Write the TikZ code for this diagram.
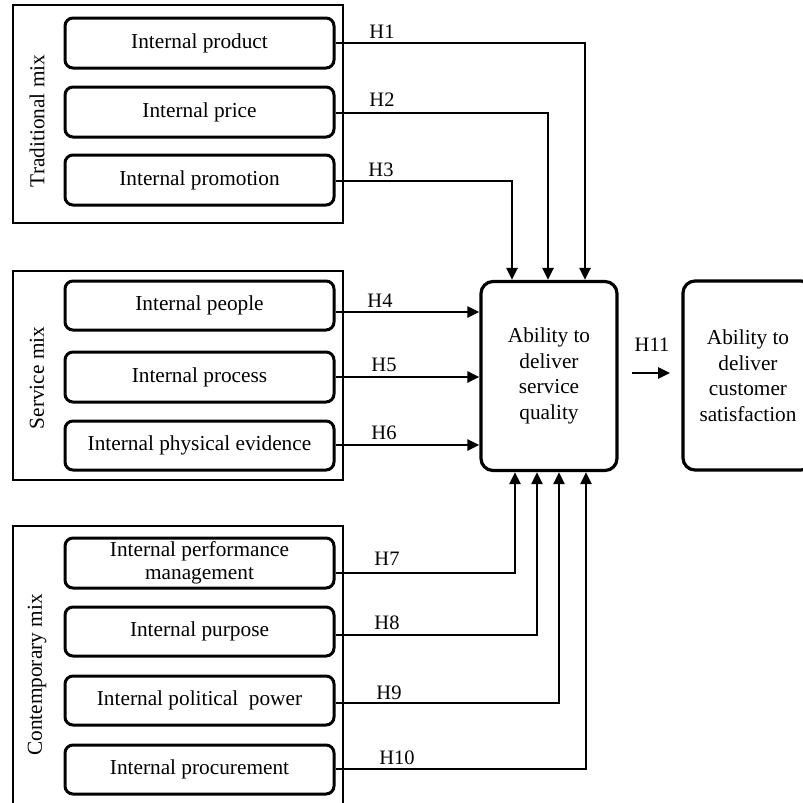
\documentclass[tikz,border=0pt]{standalone}
\usepackage{fontspec}
\setmainfont{Liberation Serif}
\usetikzlibrary{arrows.meta}
\begin{document}
\begin{tikzpicture}[x=1pt,y=-1pt,font=\fontsize{21.3}{25.5}\selectfont,
  inbox/.style={draw,line width=3pt,rounded corners=8pt,minimum width=269pt,minimum height=50pt,align=center,inner sep=0pt},
  grpbox/.style={draw,line width=1.4pt,minimum width=330pt,inner sep=0pt},
  mainbox/.style={draw,line width=3.2pt,rounded corners=12pt,align=center,inner sep=0pt,minimum height=189pt},
  conn/.style={line width=2.7pt,-{Triangle[length=12pt,width=11pt]}},
  hlab/.style={font=\fontsize{20.5}{24}\selectfont,inner sep=0pt},
  grplab/.style={rotate=90,inner sep=0pt}]
\path[use as bounding box,fill=white] (0,0) rectangle (803,803);
\clip (0,0) rectangle (803,803);
% group boxes
\node[grpbox,minimum height=218pt] (g1) at (178,114) {};
\node[grpbox,minimum height=209pt] (g2) at (178,375.5) {};
\node[grpbox,minimum height=289pt] (g3) at (178,670.5) {};
\node[grplab] (l1) at (37,121) {Traditional mix};
\node[grplab] (l2) at (37,378) {Service mix};
\node[grplab] (l3) at (37,675) {Contemporary mix};
% inner boxes
\node[inbox] (b1) at (199.5,43) {Internal product};
\node[inbox] (b2) at (199.5,112) {Internal price};
\node[inbox] (b3) at (199.5,180) {Internal promotion};
\node[inbox,minimum height=49pt] (b4) at (199.5,305.5) {Internal people};
\node[inbox] (b5) at (199.5,377) {Internal process};
\node[inbox,minimum height=49pt] (b6) at (199.5,445.5) {Internal physical evidence};
\node[inbox] (b7) at (199.5,563) {Internal performance\\[-2pt]management};
\node[inbox,minimum height=49pt] (b8) at (199.5,631.5) {Internal purpose};
\node[inbox,minimum height=49pt] (b9) at (199.5,700.5) {Internal political\ \ power};
\node[inbox,minimum height=49pt] (b10) at (199.5,769.5) {Internal procurement};
% main boxes
\node[mainbox,minimum width=136pt] (c) at (549,376) {Ability to\\deliver\\service\\quality};
\node[mainbox,minimum width=130pt] (d) at (748,375.5) {Ability to\\deliver\\customer\\satisfaction};
% connectors
\draw[conn] (b1.east |- 0,43) -| ([xshift=36pt]c.north);
\draw[conn] (b2.east |- 0,113) -| ([xshift=-1pt]c.north);
\draw[conn] (b3.east |- 0,181) -| ([xshift=-37pt]c.north);
\draw[conn] (b4.east |- 0,312) -- (c.west |- 0,312);
\draw[conn] (b5.east |- 0,377) -- (c.west |- 0,377);
\draw[conn] (b6.east |- 0,445) -- (c.west |- 0,445);
\draw[conn] (b7.east |- 0,573) -| ([xshift=-34pt]c.south);
\draw[conn] (b8.east |- 0,635) -| ([xshift=-12pt]c.south);
\draw[conn] (b9.east |- 0,703) -| ([xshift=10pt]c.south);
\draw[conn] (b10.east |- 0,769) -| ([xshift=37pt]c.south);
\coordinate (h11s) at (632,373);
\coordinate (h11e) at (670,373);
\draw[conn] (h11s) -- (h11e);
% labels
\node[hlab] (t1) at (382,32) {H1};
\node[hlab] (t2) at (382,100) {H2};
\node[hlab] (t3) at (381,170) {H3};
\node[hlab] (t4) at (380,301) {H4};
\node[hlab] (t5) at (384,365) {H5};
\node[hlab] (t6) at (384,433) {H6};
\node[hlab] (t7) at (387,559) {H7};
\node[hlab] (t8) at (387,623) {H8};
\node[hlab] (t9) at (389,693) {H9};
\node[hlab] (t10) at (397,758) {H10};
\node[hlab] (t11) at (652,345) {H11};
\end{tikzpicture}
\end{document}
